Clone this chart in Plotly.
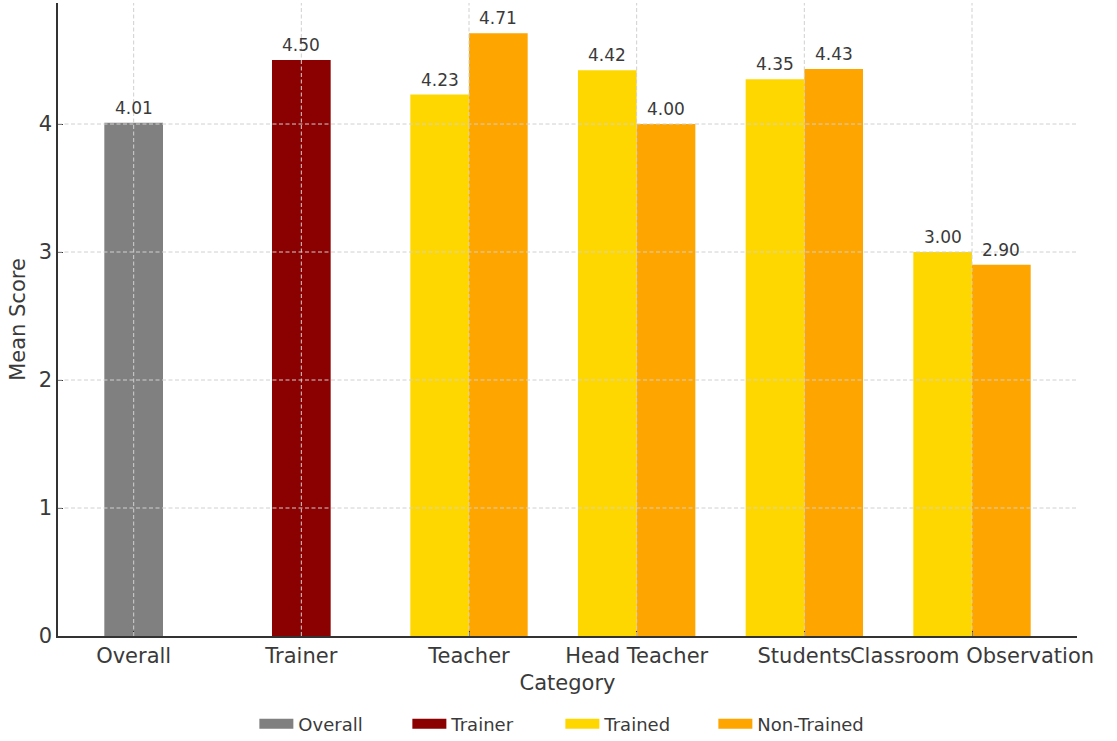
import plotly.graph_objects as go

# Mean scores by respondent category
categories = ["Overall", "Trainer", "Teacher", "Head Teacher", "Students", "Classroom Observation"]
overall_score = [4.01]
trainer_score = [4.50]
group_categories = ["Teacher", "Head Teacher", "Students", "Classroom Observation"]
trained_scores = [4.23, 4.42, 4.35, 3.00]
non_trained_scores = [4.71, 4.00, 4.43, 2.90]
y_ticks = [0, 1, 2, 3, 4]

BAR_W = 0.35
COLORS = {"Overall": "#808080", "Trainer": "#8B0000",
          "Trained": "#FFD700", "Non-Trained": "#FFA500"}
FONT = "DejaVu Sans"
TEXT = "#3a3a3a"

pos = {c: i for i, c in enumerate(categories)}
x_overall = [pos["Overall"]]
x_trainer = [pos["Trainer"]]
x_trained = [pos[c] - BAR_W / 2 for c in group_categories]
x_non_trained = [pos[c] + BAR_W / 2 for c in group_categories]

series = [
    ("Overall", x_overall, overall_score),
    ("Trainer", x_trainer, trainer_score),
    ("Trained", x_trained, trained_scores),
    ("Non-Trained", x_non_trained, non_trained_scores),
]

fig = go.Figure()
for name, xs, ys in series:
    fig.add_trace(go.Bar(
        x=xs, y=ys, width=BAR_W, name=name, showlegend=False,
        marker=dict(color=COLORS[name], line=dict(width=0)),
        hovertemplate=name + ": %{y:.2f}<extra></extra>",
    ))

# Legend entries drawn as wide swatches
for name, _, _ in series:
    fig.add_trace(go.Scatter(
        x=[None], y=[None], mode="lines", name=name,
        line=dict(color=COLORS[name], width=13), hoverinfo="skip",
    ))

# Value labels above each bar
annotations = []
for name, xs, ys in series:
    for xv, yv in zip(xs, ys):
        annotations.append(dict(
            x=xv, y=yv, xref="x", yref="y", text=f"{yv:.2f}",
            showarrow=False, yanchor="bottom", yshift=3,
            font=dict(family=FONT, size=17, color=TEXT),
        ))

# Dashed grid drawn on top of the bars
grid = dict(color="#d0d0d0", width=1, dash="4px,2.5px")
shapes = []
for i in range(len(categories)):
    shapes.append(dict(type="line", xref="x", yref="paper", x0=i, x1=i,
                       y0=0, y1=1, line=grid, layer="above"))
for t in y_ticks[1:]:
    shapes.append(dict(type="line", xref="paper", yref="y", x0=0, x1=1,
                       y0=t, y1=t, line=grid, layer="above"))

y_max = max(non_trained_scores + trained_scores + trainer_score + overall_score) * 1.05
x_lo = -BAR_W / 2
x_hi = len(categories) - 1 + BAR_W
pad = (x_hi - x_lo) * 0.05

fig.update_layout(
    width=1117, height=741,
    margin=dict(l=58, r=40, t=3, b=105, autoexpand=False),
    paper_bgcolor="white", plot_bgcolor="white",
    barmode="overlay",
    font=dict(family=FONT, color=TEXT),
    annotations=annotations,
    shapes=shapes,
    showlegend=True,
    legend=dict(
        orientation="h", x=0.493, xanchor="center", y=-0.139, yanchor="middle",
        font=dict(family=FONT, size=18, color=TEXT),
        itemwidth=34,
        entrywidth=104, entrywidthmode="pixels",
        bgcolor="rgba(0,0,0,0)",
    ),
    xaxis=dict(
        range=[x_lo - pad, x_hi + pad],
        tickmode="array", tickvals=list(range(len(categories))), ticktext=categories,
        tickangle=0,
        tickfont=dict(family=FONT, size=21, color=TEXT),
        ticks="inside", ticklen=5, tickcolor="#333333",
        showgrid=False, zeroline=False,
        showline=True, linecolor="#333333", linewidth=1.5,
        title=dict(text="Category", standoff=8,
                   font=dict(family=FONT, size=21, color=TEXT)),
        layer="above traces",
    ),
    yaxis=dict(
        range=[0, y_max],
        tickmode="array", tickvals=y_ticks,
        tickfont=dict(family=FONT, size=21, color=TEXT),
        ticks="inside", ticklen=5, tickcolor="#333333",
        showgrid=False, zeroline=False,
        showline=True, linecolor="#333333", linewidth=1.5,
        title=dict(text="Mean Score", standoff=7,
                   font=dict(family=FONT, size=21, color=TEXT)),
        layer="above traces",
    ),
)

fig.write_html("out.html")
